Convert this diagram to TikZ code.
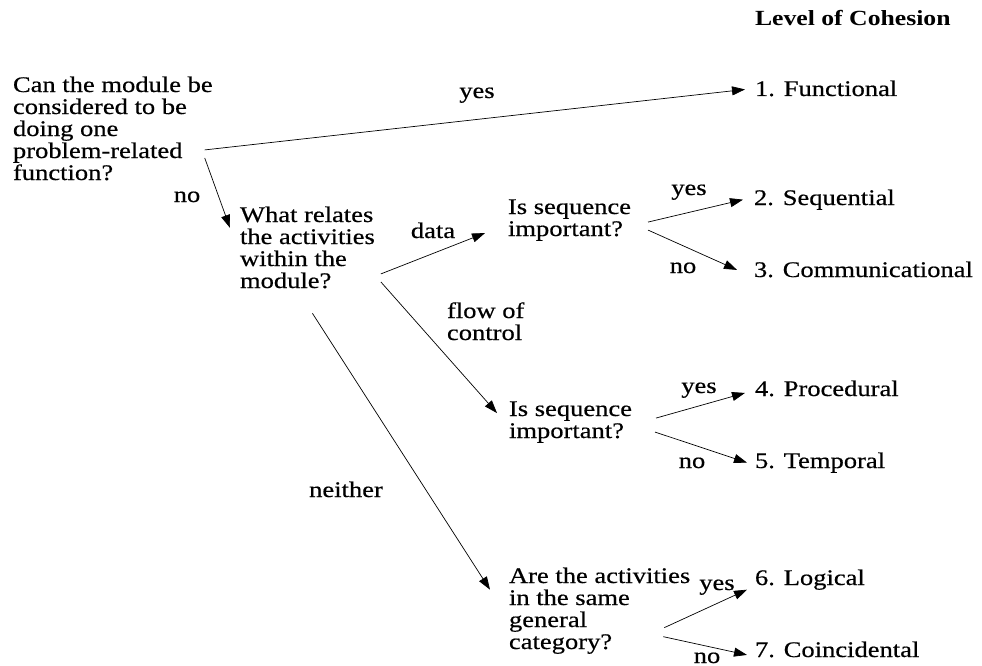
\documentclass[tikz,border=0pt]{standalone}
\usepackage{fontspec}
\setmainfont{Liberation Serif}[FakeStretch=1.19, UprightFeatures={FakeBold=0.5}]
\usepackage{tikz}
\usetikzlibrary{
    calc,
    arrows.meta,
    positioning
}
\tikzset{
    every node/.style={inner sep=0pt, outer sep=0pt},
    txt/.style={anchor=base west, align=left},
    lbl/.style={anchor=base},
    arr/.style={-{Triangle[length=13pt,width=9pt]}, line width=0.7pt}
}

\begin{document}
\begin{tikzpicture}[x=1pt,y=-1pt,font=\fontsize{22.3}{22}\selectfont]
    \useasboundingbox (0,0) rectangle (982,666);
    % questions (base = last line)
    \node[txt] (q1) at (13,180) {Can the module be\\considered to be\\doing one\\problem-related\\function?};
    \node[txt] (q2) at (240,288) {What relates\\the activities\\within the\\module?};
    \node[txt] (q3) at (508,236) {Is sequence\\important?};
    \node[txt] (q4) at (509,438) {Is sequence\\important?};
    \node[txt] (q5) at (509,649) {Are the activities\\in the same\\general\\category?};
    % levels
    \node[txt,font=\fontsize{21.6}{22}\selectfont\bfseries] (head) at (755,26) {Level of Cohesion};
    \node[txt] (l1) at (755,96) {1. Functional};
    \node[txt] (l2) at (754,205) {2. Sequential};
    \node[txt] (l3) at (754,277) {3. Communicational};
    \node[txt] (l4) at (755,396) {4. Procedural};
    \node[txt] (l5) at (755,468) {5. Temporal};
    \node[txt] (l6) at (755,585) {6. Logical};
    \node[txt] (l7) at (755,657) {7. Coincidental};
    % answers
    \node[lbl] (yes1) at (477,98) {yes};
    \node[lbl] (no1) at (187,202) {no};
    \node[lbl] (data) at (433,238) {data};
    \node[txt] (flow) at (447,340) {flow of\\control};
    \node[lbl] (neither) at (346,497) {neither};
    \node[lbl] (yes3) at (689,195) {yes};
    \node[lbl] (no3) at (683,273) {no};
    \node[lbl] (yes4) at (699,393) {yes};
    \node[lbl] (no4) at (692,468) {no};
    \node[lbl] (yes5) at (717,590) {yes};
    \node[lbl] (no5) at (707,663) {no};
    % connectors
    \draw[arr] ([shift={(-8,21.5)}]q1.east) -- ([shift={(-10,1)}]l1.west);
    \draw[arr] ([shift={(-8,29.5)}]q1.east) -- ([shift={(-10,-19.5)}]q2.west);
    \draw[arr] ([shift={(6,26.5)}]q2.east) -- ([shift={(-23,13)}]q3.west);
    \draw[arr] ([shift={(6,34.5)}]q2.east) -- ([shift={(-12,-9)}]q4.west);
    \draw[arr] ([shift={(5,25)}]q2.south) -- ([shift={(-19,-21)}]q5.west);
    \draw[arr] ([shift={(17,2)}]q3.east) -- ([shift={(-11,0)}]l2.west);
    \draw[arr] ([shift={(17,10)}]q3.east) -- ([shift={(-17,0.5)}]l3.west);
    \draw[arr] ([shift={(24,-4)}]q4.east) -- ([shift={(-10,4.5)}]l4.west);
    \draw[arr] ([shift={(23,10)}]q4.east) -- ([shift={(-8,0)}]l5.west);
    \draw[arr] ([shift={(-26,17)}]q5.east) -- ([shift={(-8,10)}]l6.west);
    \draw[arr] ([shift={(-27,26)}]q5.east) -- ([shift={(-8,5.5)}]l7.west);
\end{tikzpicture}
\end{document}
